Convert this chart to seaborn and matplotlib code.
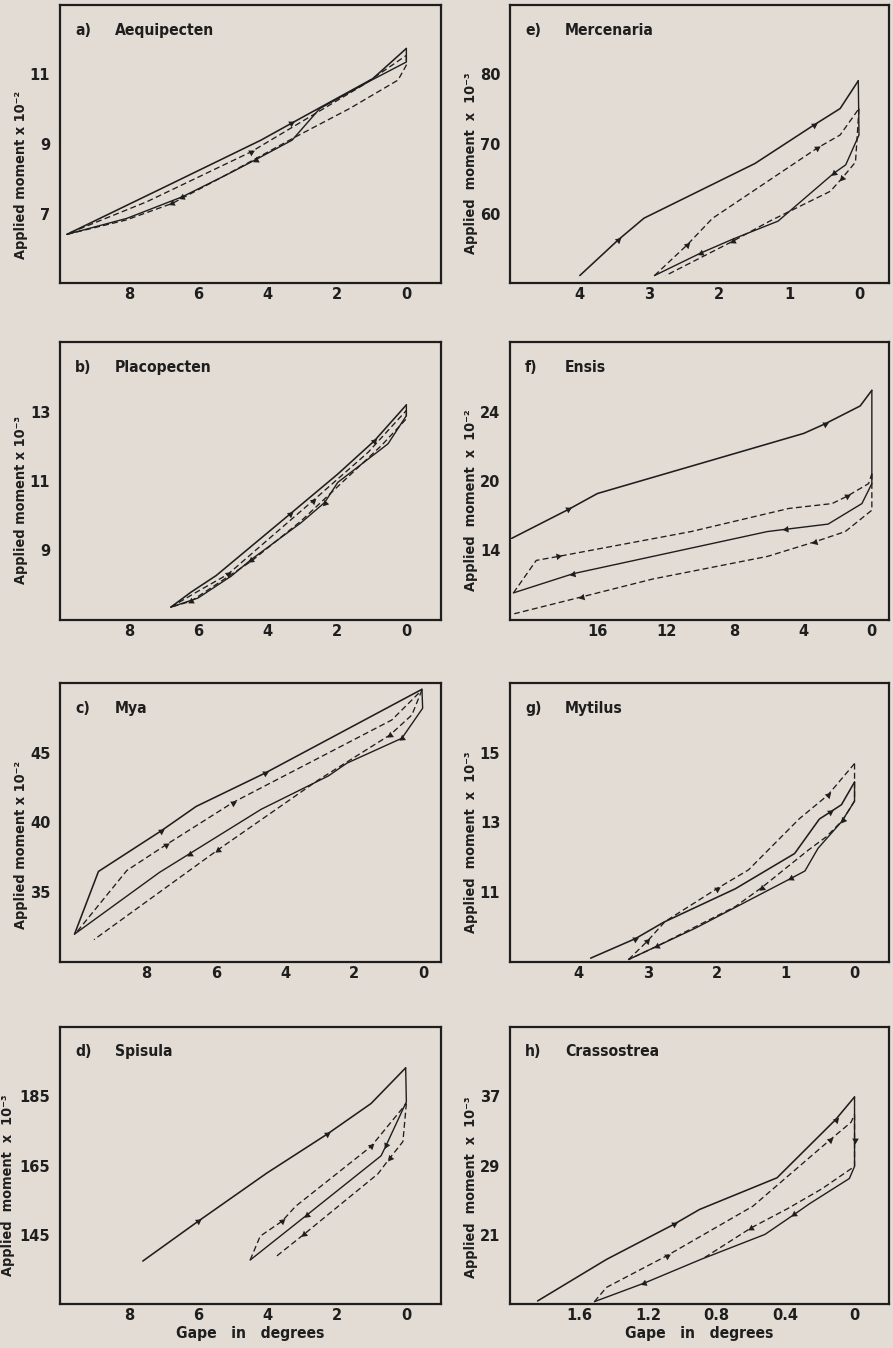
import numpy as np
import matplotlib
matplotlib.use("Agg")
import matplotlib.pyplot as plt
from matplotlib import font_manager
import seaborn as sns

# ---------------- data (gape in degrees, applied moment) ----------------
# a) Aequipecten  (x 10^-2)
a_su_x = [9.8, 8.0, 6.86, 4.2, 3.33, 0.97, 0.0]
a_su_y = [6.40, 7.27, 7.82, 9.11, 9.59, 10.88, 11.75]
a_sl_x = [0.0, 0.0, 1.0, 2.5, 3.3, 4.35, 5.12, 6.47, 8.07, 9.8]
a_sl_y = [11.75, 11.36, 10.84, 10.02, 9.11, 8.55, 8.15, 7.48, 6.86, 6.40]
a_du_x = [9.7, 7.49, 4.49, 1.26, 0.0]
a_du_y = [6.45, 7.34, 8.77, 10.69, 11.55]
a_dl_x = [0.0, 0.0, 0.24, 1.64, 3.19, 5.41, 6.76, 8.1, 9.8]
a_dl_y = [11.55, 11.27, 10.84, 10.02, 9.21, 8.0, 7.29, 6.81, 6.40]

# e) Mercenaria  (x 10^-3)
e_su_x = [4.0, 3.45, 3.08, 1.49, 0.65, 0.27, 0.01]
e_su_y = [51.07, 56.2, 59.33, 67.2, 72.7, 75.1, 79.1]
e_sl_x = [0.01, 0.0, 0.19, 0.36, 1.16, 1.81, 2.27, 2.93]
e_sl_y = [79.1, 71.3, 67.0, 65.8, 58.9, 56.3, 54.3, 51.07]
e_du_x = [2.93, 2.46, 2.1, 0.6, 0.27, 0.0]
e_du_y = [51.07, 55.5, 59.3, 69.4, 71.3, 75.1]
e_dl_x = [0.0, 0.05, 0.24, 0.41, 1.28, 1.81, 2.77]
e_dl_y = [75.1, 67.4, 65.1, 63.2, 58.9, 56.0, 51.07]

# b) Placopecten  (x 10^-3)
b_su_x = [6.8, 6.22, 5.49, 3.37, 1.98, 0.92, 0.0]
b_su_y = [7.37, 7.80, 8.28, 10.04, 11.2, 12.16, 13.19]
b_sl_x = [0.0, 0.0, 0.53, 1.98, 2.36, 3.04, 4.48, 5.06, 6.02, 6.8]
b_sl_y = [13.19, 12.88, 12.07, 10.96, 10.38, 9.8, 8.74, 8.26, 7.63, 7.37]
b_du_x = [6.8, 6.1, 5.16, 2.7, 1.11, 0.0]
b_du_y = [7.37, 7.78, 8.31, 10.43, 11.82, 13.03]
b_dl_x = [0.0, 0.0, 0.72, 3.04, 4.48, 6.22, 6.8]
b_dl_y = [13.03, 12.79, 12.02, 9.85, 8.69, 7.54, 7.37]

# f) Ensis  (x 10^-2, values on the printed tick scale)
f_su_x = [21.0, 17.7, 16.0, 3.97, 2.75, 0.68, 0.0]
f_su_y = [16.7, 18.36, 19.28, 22.74, 23.28, 24.32, 25.22]
f_sl_x = [0.0, 0.0, 0.58, 2.55, 5.03, 6.09, 17.4, 20.9]
f_sl_y = [25.22, 19.85, 18.70, 17.52, 17.22, 17.09, 14.67, 13.56]
f_du_x = [20.9, 19.57, 18.28, 10.54, 4.84, 2.32, 1.45, 0.19, 0.0]
f_du_y = [13.56, 15.43, 15.66, 17.09, 18.42, 18.70, 19.12, 19.85, 20.42]
f_dl_x = [0.0, 0.0, 1.55, 3.29, 6.09, 12.77, 16.92, 20.85]
f_dl_y = [20.42, 18.32, 17.09, 16.51, 15.66, 14.36, 13.33, 12.36]

# c) Mya  (x 10^-2)
c_su_x = [10.08, 9.39, 7.58, 6.57, 4.59, 3.33, 0.05]
c_su_y = [32.0, 36.49, 39.4, 41.15, 43.53, 45.2, 49.55]
c_sl_x = [0.05, 0.03, 0.63, 2.22, 2.75, 4.69, 6.76, 7.63, 10.08]
c_sl_y = [49.55, 48.19, 46.04, 44.25, 43.34, 40.95, 37.76, 36.42, 32.0]
c_du_x = [10.0, 8.57, 7.44, 5.51, 0.92, 0.05]
c_du_y = [32.2, 36.56, 38.4, 41.43, 47.35, 49.5]
c_dl_x = [0.05, 0.34, 0.97, 3.04, 5.94, 9.52]
c_dl_y = [49.5, 47.71, 46.28, 43.05, 38.04, 31.6]

# g) Mytilus  (x 10^-3)
g_su_x = [3.83, 3.18, 2.77, 1.73, 0.87, 0.51, 0.36, 0.19, 0.0]
g_su_y = [9.11, 9.67, 10.14, 11.1, 12.11, 13.1, 13.29, 13.51, 14.16]
g_sl_x = [0.0, 0.0, 0.19, 0.53, 0.72, 0.92, 2.31, 3.28]
g_sl_y = [14.16, 13.61, 13.02, 12.26, 11.61, 11.4, 9.97, 9.07]
g_du_x = [3.28, 3.01, 2.75, 2.0, 1.54, 0.80, 0.39, 0.0]
g_du_y = [9.07, 9.59, 10.16, 11.1, 11.64, 13.11, 13.78, 14.69]
g_dl_x = [0.0, 0.0, 0.17, 0.41, 0.67, 1.35, 1.73, 2.87, 3.28]
g_dl_y = [14.69, 13.62, 13.07, 12.59, 12.21, 11.13, 10.59, 9.45, 9.07]

# d) Spisula  (x 10^-3)
d_su_x = [7.61, 6.01, 4.03, 2.28, 1.02, 0.02]
d_su_y = [137.4, 148.9, 162.8, 174.1, 182.9, 193.2]
d_sl_x = [0.02, 0.0, 0.58, 0.73, 2.86, 4.51]
d_sl_y = [193.2, 183.4, 170.9, 167.8, 150.8, 137.7]
d_du_x = [4.51, 4.22, 3.59, 3.2, 1.02, 0.0]
d_du_y = [137.7, 144.6, 148.9, 153.2, 170.5, 182.9]
d_dl_x = [0.0, 0.1, 0.48, 0.82, 2.96, 3.80]
d_dl_y = [182.9, 171.9, 167.1, 162.6, 145.1, 138.4]

# h) Crassostrea  (x 10^-3)
h_su_x = [1.84, 1.44, 1.05, 0.90, 0.45, 0.11, 0.0]
h_su_y = [13.35, 18.15, 22.19, 23.92, 27.58, 34.3, 36.92]
h_sl_x = [0.0, 0.0, 0.0, 0.03, 0.26, 0.35, 0.52, 0.89, 1.22, 1.51]
h_sl_y = [36.92, 32.0, 28.9, 27.5, 24.6, 23.35, 21.04, 18.17, 15.42, 13.27]
h_du_x = [1.51, 1.44, 1.09, 0.59, 0.14, 0.02, 0.0]
h_du_y = [13.27, 14.92, 18.57, 24.3, 32.0, 34.0, 34.9]
h_dl_x = [0.0, 0.0, 0.19, 0.39, 0.6, 0.87]
h_dl_y = [34.9, 28.9, 26.3, 24.0, 21.8, 18.37]

# arrowhead vertex indices per line (su, sl, du, dl)
a_arrows = [[4], [5, 7], [2], [6]]
e_arrows = [[1, 4], [3, 6], [1, 3], [2, 5]]
b_arrows = [[3, 5], [4, 6], [2, 3], [5]]
f_arrows = [[1, 4], [4, 6], [2, 6], [3, 6]]
c_arrows = [[2, 4], [2, 6], [2, 3], [2, 4]]
g_arrows = [[1, 6], [5], [1, 3, 6], [2, 5, 7]]
d_arrows = [[1, 3], [2, 4], [2, 4], [2, 4]]
h_arrows = [[2, 5], [1, 5, 8], [2, 4], [4]]

# labels / ticks
letters = ["a)", "e)", "b)", "f)", "c)", "g)", "d)", "h)"]
names = ["Aequipecten", "Mercenaria", "Placopecten", "Ensis",
         "Mya", "Mytilus", "Spisula", "Crassostrea"]
exponents = ["2", "3", "3", "2", "2", "3", "3", "3"]
xticks_list = [[8, 6, 4, 2, 0], [4, 3, 2, 1, 0], [8, 6, 4, 2, 0], [16, 12, 8, 4, 0],
               [8, 6, 4, 2, 0], [4, 3, 2, 1, 0], [8, 6, 4, 2, 0], [1.6, 1.2, 0.8, 0.4, 0]]
xticklabels_list = [["8", "6", "4", "2", "0"], ["4", "3", "2", "1", "0"],
                    ["8", "6", "4", "2", "0"], ["16", "12", "8", "4", "0"],
                    ["8", "6", "4", "2", "0"], ["4", "3", "2", "1", "0"],
                    ["8", "6", "4", "2", "0"], ["1.6", "1.2", "0.8", "0.4", "0"]]
yticks_list = [[7, 9, 11], [60, 70, 80], [9, 11, 13], [16, 20, 24],
               [35, 40, 45], [11, 13, 15], [145, 165, 185], [21, 29, 37]]
yticklabels_list = [["7", "9", "11"], ["60", "70", "80"], ["9", "11", "13"], ["14", "20", "24"],
                    ["35", "40", "45"], ["11", "13", "15"], ["145", "165", "185"], ["21", "29", "37"]]
xlims = [(10, -1), (5, -0.43), (10, -1), (21.1, -1), (10.5, -0.5), (5, -0.5), (10, -1), (2.0, -0.2)]
ylims = [(5, 13), (50, 90), (7, 15), (12, 28), (30, 50), (9, 17), (125, 205), (13, 45)]

panels = [
    ((a_su_x, a_su_y), (a_sl_x, a_sl_y), (a_du_x, a_du_y), (a_dl_x, a_dl_y), a_arrows),
    ((e_su_x, e_su_y), (e_sl_x, e_sl_y), (e_du_x, e_du_y), (e_dl_x, e_dl_y), e_arrows),
    ((b_su_x, b_su_y), (b_sl_x, b_sl_y), (b_du_x, b_du_y), (b_dl_x, b_dl_y), b_arrows),
    ((f_su_x, f_su_y), (f_sl_x, f_sl_y), (f_du_x, f_du_y), (f_dl_x, f_dl_y), f_arrows),
    ((c_su_x, c_su_y), (c_sl_x, c_sl_y), (c_du_x, c_du_y), (c_dl_x, c_dl_y), c_arrows),
    ((g_su_x, g_su_y), (g_sl_x, g_sl_y), (g_du_x, g_du_y), (g_dl_x, g_dl_y), g_arrows),
    ((d_su_x, d_su_y), (d_sl_x, d_sl_y), (d_du_x, d_du_y), (d_dl_x, d_dl_y), d_arrows),
    ((h_su_x, h_su_y), (h_sl_x, h_sl_y), (h_du_x, h_du_y), (h_dl_x, h_dl_y), h_arrows),
]

# ---------------- style ----------------
BG = "#e3dcd4"
INK = "#1e1e1e"
sns.set_style("white")


def _stretch_num(s):
    if isinstance(s, (int, float)):
        return int(s)
    return font_manager.stretch_dict.get(s, 500)


def _weight_num(w):
    if isinstance(w, (int, float)):
        return int(w)
    return font_manager.weight_dict.get(w, 400)


# pick the narrowest bold face of a family that has condensed widths
FONT, STRETCH, SCALE = ["DejaVu Sans"], "normal", 0.88
found = None
for fam in ["Noto Sans", "DejaVu Sans", "Open Sans", "Roboto", "Lato", "Inter", "Liberation Sans Narrow"]:
    cands = [f for f in font_manager.fontManager.ttflist
             if f.name == fam and _stretch_num(f.stretch) <= 400 and 600 <= _weight_num(f.weight) <= 750
             and f.style == "normal"]
    if cands:
        best = min(cands, key=lambda f: _stretch_num(f.stretch))
        found = (fam, best.stretch)
        break
if found is not None:
    FONT = [found[0], "DejaVu Sans"]
    STRETCH = found[1]
    SCALE = 1.0 if _stretch_num(STRETCH) <= 200 else 0.9

plt.rcParams["font.family"] = FONT
plt.rcParams["font.weight"] = "bold"
plt.rcParams["font.stretch"] = STRETCH

TICK_FS = 13 * SCALE
NAME_FS = 12.5 * SCALE
YLAB_FS = 11.5 * SCALE

fig = plt.figure(figsize=(8.93, 13.48), dpi=100, facecolor=BG)

col_left = [60 / 893, 510 / 893]
col_width = [381 / 893, 379 / 893]
row_top = [5, 342, 683, 1027]
row_bot = [283, 620, 962, 1304]

ylabel_y = [0.39, 0.43, 0.43, 0.43, 0.42, 0.43, 0.43, 0.42]
ylabel_x = [-0.085, -0.085, -0.085, -0.085, -0.085, -0.085, -0.118, -0.085]

for i, (su, sl, du, dl, arrows) in enumerate(panels):
    r, c = divmod(i, 2)
    H = 1348.0
    ax = fig.add_axes([col_left[c], 1 - row_bot[r] / H, col_width[c], (row_bot[r] - row_top[r]) / H])
    ax.set_facecolor(BG)
    ax.set_xlim(*xlims[i])
    ax.set_ylim(*ylims[i])

    lines = [(su, "-", 1.15), (sl, "-", 1.0), (du, (0, (4.5, 2.5)), 0.95), (dl, (0, (4.5, 2.5)), 0.95)]
    for (xs, ys), ls, lw in lines:
        sns.lineplot(x=xs, y=ys, sort=False, estimator=None, ax=ax,
                     color=INK, linewidth=lw, linestyle=ls)

    ax.set_xticks(xticks_list[i])
    ax.set_xticklabels(xticklabels_list[i], fontsize=TICK_FS, fontweight="bold")
    ax.set_yticks(yticks_list[i])
    ax.set_yticklabels(yticklabels_list[i], fontsize=TICK_FS, fontweight="bold")
    ax.tick_params(axis="x", direction="in", length=6, width=1.3, pad=3, colors=INK)
    ax.tick_params(axis="y", direction="out", length=5, width=1.3, pad=2, colors=INK)
    for sp in ax.spines.values():
        sp.set_visible(True)
        sp.set_linewidth(1.6)
        sp.set_color(INK)

    # arrowheads (direction taken from neighbouring data vertices in display space)
    fig.canvas.draw()
    for (xs, ys), idxs in zip([su, sl, du, dl], arrows):
        pts = ax.transData.transform(np.column_stack([xs, ys]))
        for k in idxs:
            p0 = pts[max(k - 1, 0)]
            p1 = pts[min(k + 1, len(pts) - 1)]
            ang = np.degrees(np.arctan2(p1[1] - p0[1], p1[0] - p0[0])) - 90
            ax.plot([xs[k]], [ys[k]], marker=(3, 0, ang), markersize=5.5,
                    color=INK, markeredgewidth=0, linestyle="none")

    ax.text(0.04, 0.91, letters[i], transform=ax.transAxes, fontsize=NAME_FS,
            fontweight="bold", va="center", ha="left", color=INK)
    ax.text(0.145, 0.91, names[i], transform=ax.transAxes, fontsize=NAME_FS,
            fontweight="bold", va="center", ha="left", color=INK)

    sp = "  " if i not in (0, 2, 4) else " "
    ax.set_ylabel(f"Applied{sp}moment{sp}x{sp}10" + "\u207b" + ("\u00b2" if exponents[i] == "2" else "\u00b3"),
                  fontsize=YLAB_FS, fontweight="bold", color=INK)
    ax.yaxis.set_label_coords(ylabel_x[i], ylabel_y[i])
    if r == 3:
        ax.set_xlabel("Gape   in   degrees", fontsize=NAME_FS, fontweight="bold", color=INK, labelpad=2)
    else:
        ax.set_xlabel("")

fig.savefig("out.png", dpi=100, facecolor=BG)
